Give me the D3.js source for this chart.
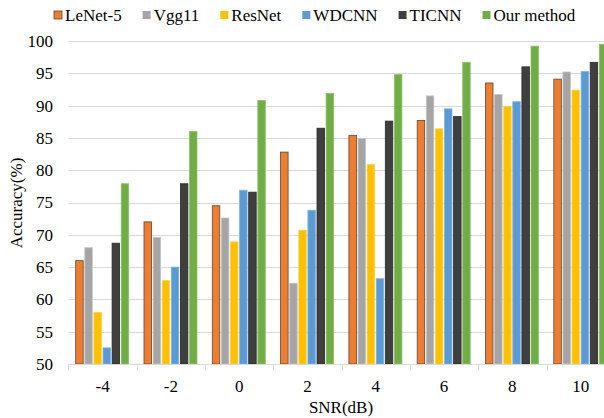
<!DOCTYPE html>
<html lang="en">

<head>
	<meta charset="utf-8">
	<style>
		body {
			margin: 0;
			background-color: white;
		}

		svg {
			font-family: 'Liberation Serif', 'Times New Roman', serif;
			display: block;
		}

		.grid line {
			stroke: #d9d9d9;
			stroke-width: 1px;
		}

		.axis-label {
			font-family: 'Liberation Serif', 'Times New Roman', serif;
			font-size: 17px;
			fill: #000;
		}
	</style>
</head>

<body>
	<svg width="604" height="418"></svg>
	<script src="https://d3js.org/d3.v7.min.js"></script>
	<script>
		// data
		const snr = ['-4', '-2', '0', '2', '4', '6', '8', '10'];
		const methods = ['LeNet-5', 'Vgg11', 'ResNet', 'WDCNN', 'TICNN', 'Our method'];
		const lenet = [66.0, 72.0, 74.5, 82.8, 85.4, 87.7, 93.5, 94.1];
		const vgg = [68.0, 69.6, 72.6, 62.5, 84.9, 91.5, 91.7, 95.2];
		const resnet = [58.0, 62.9, 68.9, 70.7, 80.9, 86.4, 89.9, 92.4];
		const wdcnn = [52.5, 65.0, 76.9, 73.8, 63.2, 89.5, 90.6, 95.3];
		const ticnn = [68.7, 77.9, 76.6, 86.5, 87.6, 88.3, 96.0, 96.7];
		const ours = [77.9, 86.0, 90.8, 91.9, 94.8, 96.7, 99.2, 99.5];
		const yTicks = [50, 55, 60, 65, 70, 75, 80, 85, 90, 95, 100];

		const colors = ['#ED7D31', '#A5A5A5', '#FFC000', '#5B9BD5', '#3F3F3F', '#70AD47'];
		const strokes = ['#5e4636', '#c4c4c4', '#ffd24d', '#80b3e0', '#2a2a2a', '#8fc06b'];

		const series = [lenet, vgg, resnet, wdcnn, ticnn, ours];

		const svg = d3.select('svg');
		const plotLeft = 68.4, step = 68.3;

		const x0 = d3.scaleBand().domain(snr).range([plotLeft, plotLeft + step * snr.length]);
		const x1 = d3.scaleBand().domain(methods).range([7.3, 60.3]).paddingInner(0.176);
		const y = d3.scaleLinear().domain([50, 100]).range([364, 41]);

		// gridlines
		svg.append('g')
			.attr('class', 'grid')
			.selectAll('line')
			.data(yTicks)
			.join('line')
			.attr('x1', plotLeft)
			.attr('x2', 604)
			.attr('y1', d => Math.round(y(d)) + 0.5)
			.attr('y2', d => Math.round(y(d)) + 0.5);

		// y tick labels
		svg.append('g')
			.selectAll('text')
			.data(yTicks)
			.join('text')
			.attr('class', 'axis-label')
			.attr('x', 53)
			.attr('y', d => y(d))
			.attr('dy', '0.35em')
			.attr('text-anchor', 'end')
			.text(d => d);

		// bars
		const groups = svg.append('g')
			.selectAll('g')
			.data(snr)
			.join('g')
			.attr('transform', d => `translate(${x0(d)},0)`);

		groups.selectAll('rect')
			.data((d, i) => methods.map((m, j) => ({ m: m, j: j, v: series[j][i] })))
			.join('rect')
			.attr('x', d => x1(d.m))
			.attr('width', x1.bandwidth())
			.attr('y', d => y(d.v))
			.attr('height', d => y(50) - y(d.v))
			.attr('fill', d => colors[d.j])
			.attr('stroke', d => strokes[d.j])
			.attr('stroke-width', 0.8);

		// x axis line + category ticks
		const xAxis = d3.axisBottom(x0).tickSize(0).tickPadding(15);
		const ax = svg.append('g')
			.attr('transform', 'translate(0,' + (y(50) + 0.5) + ')')
			.call(xAxis)
			.attr('font-family', null)
			.attr('font-size', null);
		ax.select('.domain').attr('stroke', '#d9d9d9').attr('d', `M${plotLeft},0H604`);
		ax.selectAll('.tick text')
			.attr('class', 'axis-label')
			.style('font-family', "'Liberation Serif', 'Times New Roman', serif")
			.style('font-size', '17px');
		ax.selectAll('.sep')
			.data(snr.concat(['end']))
			.join('line')
			.attr('class', 'sep')
			.attr('x1', (d, i) => Math.round(plotLeft + i * step) + 0.5)
			.attr('x2', (d, i) => Math.round(plotLeft + i * step) + 0.5)
			.attr('y1', 0)
			.attr('y2', 6)
			.attr('stroke', '#d9d9d9');

		// axis titles
		svg.append('text')
			.attr('class', 'axis-label')
			.attr('x', 341)
			.attr('y', 413)
			.attr('text-anchor', 'middle')
			.text('SNR(dB)');

		svg.append('text')
			.attr('class', 'axis-label')
			.attr('transform', 'translate(22,203) rotate(-90)')
			.attr('text-anchor', 'middle')
			.text('Accuracy(%)');

		// legend
		const legend = svg.append('g');
		let lx = 54;
		methods.forEach((m, j) => {
			legend.append('rect')
				.attr('x', lx)
				.attr('y', 11)
				.attr('width', 8)
				.attr('height', 8)
				.attr('fill', colors[j])
				.attr('stroke', j === 0 ? strokes[0] : 'none')
				.attr('stroke-width', 0.8);
			const t = legend.append('text')
				.attr('class', 'axis-label')
				.attr('x', lx + 11)
				.attr('y', 21)
				.text(m);
			lx += 11 + t.node().getComputedTextLength() + 21;
		});
	</script>
</body>

</html>
